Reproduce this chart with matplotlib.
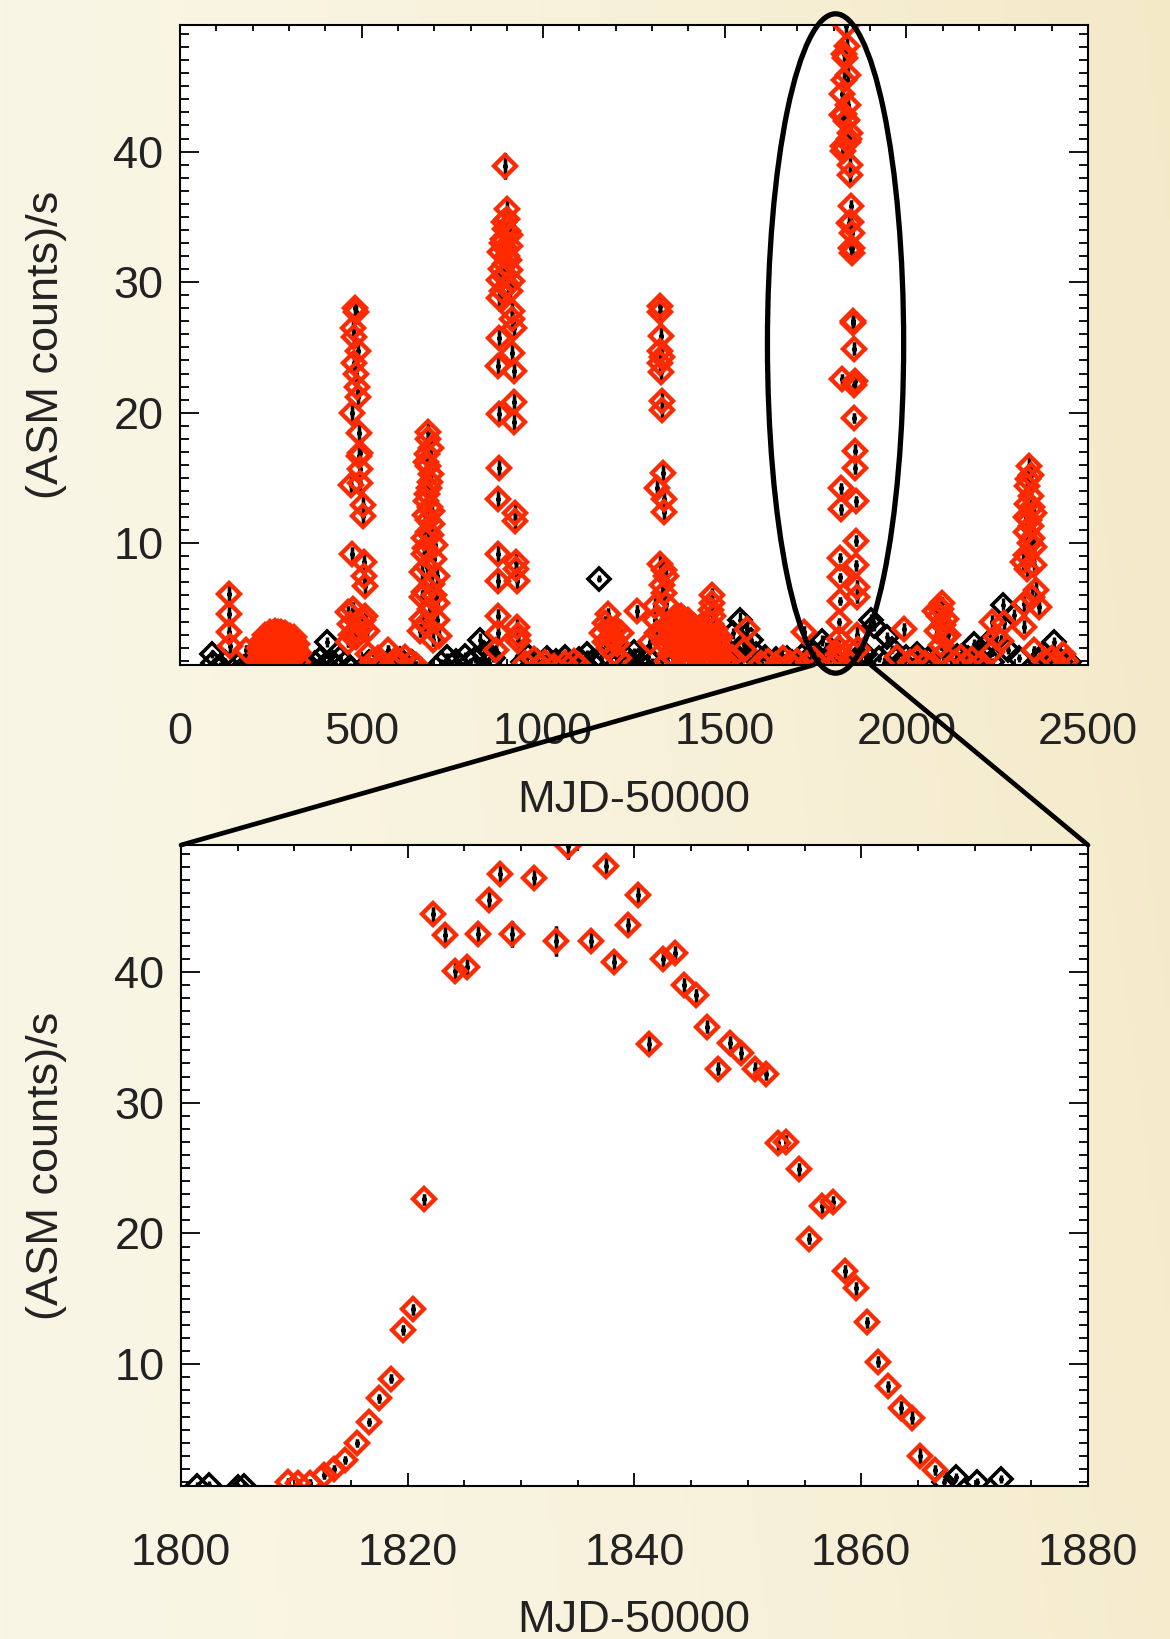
import numpy as np
import matplotlib
matplotlib.use("Agg")
import matplotlib.pyplot as plt
from matplotlib.patches import Ellipse, ConnectionPatch
from matplotlib.ticker import MultipleLocator

plt.rcParams['font.family'] = ['Liberation Sans', 'DejaVu Sans']

# ASM one-day averages: (MJD-50000, rate, error)
# quiet points, drawn in black only
quiet = [
    (87, 1.5, 0.3), (92, 0.8, 0.3), (110, 0.6, 0.3), (125, 0.9, 0.3), (160, 0.7, 0.3),
    (175, 0.5, 0.3), (195, 1.0, 0.3), (205, 0.6, 0.3), (330, 0.6, 0.3), (345, 0.9, 0.3),
    (360, 0.5, 0.3), (372, 0.8, 0.3), (385, 1.1, 0.3), (398, 0.7, 0.3), (406, 2.45, 0.4),
    (418, 0.9, 0.3), (430, 0.6, 0.3), (442, 1.2, 0.3), (455, 0.8, 0.3), (468, 0.5, 0.3),
    (520, 0.9, 0.3), (560, 0.6, 0.3), (575, 1.0, 0.3), (590, 0.7, 0.3), (605, 1.1, 0.3),
    (620, 0.6, 0.3), (640, 0.9, 0.3), (655, 0.5, 0.3), (720, 0.8, 0.3), (735, 1.3, 0.3),
    (748, 0.7, 0.3), (760, 1.0, 0.3), (772, 0.6, 0.3), (785, 1.4, 0.3), (798, 0.9, 0.3),
    (812, 1.1, 0.3), (827, 2.6, 0.5), (838, 1.6, 0.3), (850, 0.8, 0.3), (862, 1.2, 0.3),
    (945, 0.9, 0.3), (958, 1.4, 0.3), (970, 0.7, 0.3), (982, 1.0, 0.3), (995, 0.6, 0.3),
    (1010, 1.2, 0.3), (1022, 0.8, 0.3), (1035, 1.0, 0.3), (1048, 0.6, 0.3), (1060, 1.3, 0.3),
    (1072, 0.9, 0.3), (1085, 0.7, 0.3), (1098, 1.1, 0.3), (1110, 0.8, 0.3), (1122, 1.5, 0.3),
    (1135, 0.9, 0.3), (1153, 7.3, 0.3), (1160, 1.2, 0.3), (1225, 1.4, 0.3), (1238, 0.8, 0.3),
    (1250, 1.7, 0.3), (1262, 1.0, 0.3), (1275, 0.6, 0.3), (1288, 1.3, 0.3), (1300, 0.9, 0.3),
    (1495, 1.6, 0.3), (1508, 1.0, 0.3), (1524, 3.1, 0.4), (1535, 1.4, 0.3), (1543, 4.1, 0.6),
    (1553, 2.2, 0.4), (1562, 1.1, 0.3), (1572, 2.6, 0.4), (1585, 1.5, 0.3), (1598, 0.9, 0.3),
    (1610, 1.3, 0.3), (1625, 0.8, 0.3), (1640, 1.1, 0.3), (1655, 0.7, 0.3), (1670, 1.2, 0.3),
    (1685, 0.9, 0.3), (1700, 0.6, 0.3), (1712, 1.4, 0.3), (1730, 1.0, 0.3), (1745, 1.6, 0.3),
    (1758, 0.9, 0.3), (1768, 2.55, 0.4), (1779, 2.0, 0.4), (1790, 1.2, 0.3), (1885, 1.5, 0.3),
    (1902, 4.1, 0.5), (1911, 3.7, 0.4), (1925, 1.2, 0.3), (1938, 0.8, 0.3), (1947, 2.8, 0.4),
    (1960, 1.9, 0.3), (1972, 1.1, 0.3), (1985, 0.7, 0.3), (2000, 1.3, 0.3), (2015, 0.9, 0.3),
    (2030, 1.5, 0.3), (2045, 0.7, 0.3), (2060, 1.1, 0.3), (2140, 1.4, 0.3), (2155, 0.8, 0.3),
    (2170, 1.2, 0.3), (2186, 2.3, 0.4), (2200, 1.0, 0.3), (2212, 1.6, 0.3), (2223, 2.3, 0.4),
    (2235, 0.9, 0.3), (2265, 5.3, 0.5), (2280, 1.8, 0.3), (2297, 4.5, 0.5), (2310, 1.2, 0.3),
    (2365, 1.0, 0.3), (2380, 1.5, 0.3), (2395, 0.8, 0.3), (2406, 2.4, 0.4), (2420, 1.1, 0.3),
    (2435, 0.7, 0.3), (2448, 0.9, 0.3),
]

# quiet days either side of the 1999 outburst
burst_quiet = [
    (1801.4, 0.7, 0.3), (1802.5, 0.8, 0.3), (1805.0, 0.6, 0.3), (1805.6, 0.7, 0.3),
    (1867.3, 1.0, 0.3), (1868.4, 1.4, 0.3), (1870.2, 1.0, 0.3), (1872.3, 1.2, 0.3),
]

# outburst shown in the lower panel
burst_1999 = [
    (1809.4, 1.0, 0.3), (1810.3, 0.95, 0.3), (1811.4, 0.95, 0.3), (1812.6, 1.55, 0.3),
    (1813.5, 2.0, 0.3), (1814.5, 2.7, 0.3), (1815.5, 4.0, 0.3), (1816.6, 5.6, 0.3),
    (1817.5, 7.4, 0.35), (1818.5, 8.9, 0.35), (1819.6, 12.6, 0.4), (1820.5, 14.2, 0.4),
    (1821.4, 22.6, 0.4), (1822.2, 44.4, 0.6), (1823.3, 42.8, 0.6), (1824.2, 40.05, 0.6),
    (1825.2, 40.4, 0.6), (1826.2, 42.9, 0.6), (1827.2, 45.5, 0.6), (1828.1, 47.5, 0.6),
    (1829.2, 42.9, 1.0), (1831.1, 47.2, 0.7), (1833.1, 42.35, 1.15), (1834.1, 49.6, 1.0),
    (1836.2, 42.4, 0.7), (1837.5, 48.1, 0.6), (1838.2, 40.75, 0.6), (1839.4, 43.55, 0.6),
    (1840.3, 45.9, 0.6), (1841.3, 34.5, 0.6), (1842.5, 41.0, 0.6), (1843.6, 41.45, 0.5),
    (1844.4, 39.0, 0.5), (1845.4, 38.2, 0.5), (1846.4, 35.8, 0.5), (1847.4, 32.6, 0.5),
    (1848.4, 34.6, 0.5), (1849.4, 33.8, 0.5), (1850.6, 32.6, 0.5), (1851.6, 32.2, 0.5),
    (1852.7, 26.9, 0.5), (1853.4, 27.0, 0.5), (1854.5, 24.9, 0.5), (1855.4, 19.6, 0.4),
    (1856.5, 22.1, 0.5), (1857.5, 22.4, 0.5), (1858.6, 17.1, 0.5), (1859.5, 15.8, 0.5),
    (1860.5, 13.2, 0.4), (1861.5, 10.2, 0.4), (1862.4, 8.3, 0.4), (1863.5, 6.65, 0.5),
    (1864.5, 5.9, 0.5), (1865.2, 2.95, 0.7), (1866.5, 1.9, 0.4),
]

# other outbursts / active days (red)
burst_a = [
    (136, 6.1, 0.6), (136, 4.55, 0.6), (136, 3.2, 0.6), (138, 2.1, 0.5), (182, 1.8, 0.4),
    (215, 1.0, 0.3), (220, 1.6, 0.3), (225, 0.9, 0.3), (228, 2.2, 0.3), (232, 1.3, 0.3),
    (236, 2.6, 0.3), (240, 1.8, 0.3), (244, 0.8, 0.3), (247, 2.9, 0.3), (250, 2.1, 0.3),
    (253, 1.4, 0.3), (256, 3.1, 0.3), (259, 2.4, 0.3), (262, 3.3, 0.3), (265, 1.7, 0.3),
    (268, 2.8, 0.3), (271, 3.2, 0.3), (274, 2.0, 0.3), (277, 2.9, 0.3), (280, 1.2, 0.3),
    (283, 3.0, 0.3), (286, 2.5, 0.3), (289, 1.9, 0.3), (292, 2.7, 0.3), (296, 1.4, 0.3),
    (300, 2.3, 0.3), (304, 1.8, 0.3), (308, 2.6, 0.3), (312, 1.1, 0.3), (316, 2.0, 0.3),
    (320, 1.5, 0.3), (325, 0.9, 0.3),
    (217, 2.0, 0.3), (222, 1.1, 0.3), (226, 2.5, 0.3), (230, 1.7, 0.3), (234, 3.0, 0.3),
    (238, 1.1, 0.3), (242, 2.4, 0.3), (246, 1.6, 0.3), (249, 3.2, 0.3), (252, 2.6, 0.3),
    (255, 1.9, 0.3), (258, 2.9, 0.3), (261, 1.2, 0.3), (264, 3.0, 0.3), (267, 2.2, 0.3),
    (270, 1.5, 0.3), (273, 3.1, 0.3), (276, 2.4, 0.3), (279, 3.2, 0.3), (282, 2.0, 0.3),
    (285, 1.4, 0.3), (288, 3.1, 0.3), (291, 2.2, 0.3), (294, 3.0, 0.3), (298, 2.0, 0.3),
    (302, 2.9, 0.3), (306, 1.3, 0.3), (310, 2.2, 0.3), (314, 2.8, 0.3), (318, 1.7, 0.3),
    (322, 2.3, 0.3), (328, 1.6, 0.3),
]
burst_b = [
    (482, 28.0, 0.8), (486, 27.7, 0.7), (476, 26.5, 0.7), (478, 25.8, 0.7), (491, 24.75, 0.8),
    (480, 23.8, 0.7), (486, 23.0, 0.7), (487, 22.0, 0.7), (491, 21.2, 0.7), (473, 20.0, 0.6),
    (494, 18.45, 0.8), (496, 16.9, 0.8), (493, 16.7, 0.7), (496, 15.7, 0.7), (471, 14.5, 0.6),
    (496, 14.6, 0.8), (505, 12.9, 0.8), (505, 12.1, 0.8), (475, 9.2, 0.5), (508, 8.6, 0.8),
    (508, 7.5, 0.7), (510, 6.7, 0.7), (464, 4.7, 0.5), (477, 5.0, 0.5), (505, 4.1, 0.5),
    (514, 3.3, 0.5), (468, 3.8, 0.5), (464, 2.45, 0.4), (510, 4.4, 0.5), (482, 3.3, 0.5),
    (490, 4.0, 0.5), (470, 3.0, 0.4), (500, 3.6, 0.5), (485, 2.8, 0.4),
    (519, 1.5, 0.3), (530, 0.9, 0.3), (545, 1.2, 0.3), (558, 0.7, 0.3), (574, 1.8, 0.4),
    (590, 1.0, 0.3), (605, 0.8, 0.3), (620, 1.3, 0.3), (635, 0.9, 0.3), (650, 0.7, 0.3),
]
burst_c = [
    (684, 18.5, 0.7), (684, 18.0, 0.7), (680, 16.8, 0.7), (684, 15.9, 0.7), (689, 14.7, 0.7),
    (680, 13.8, 0.7), (689, 12.8, 0.7), (675, 12.2, 0.7), (694, 11.5, 0.7), (684, 10.9, 0.7),
    (671, 10.4, 0.7), (703, 9.9, 0.7), (671, 9.2, 0.7), (666, 7.8, 0.6), (707, 7.5, 0.6),
    (666, 5.85, 0.6), (707, 5.4, 0.6), (666, 4.2, 0.6), (707, 4.1, 0.6), (661, 3.3, 0.5),
    (712, 2.9, 0.5), (698, 2.6, 0.5), (692, 17.3, 0.7), (677, 16.2, 0.7), (690, 15.3, 0.7),
    (686, 14.2, 0.7), (678, 13.2, 0.7), (695, 12.5, 0.7), (682, 11.8, 0.7), (690, 10.6, 0.7),
    (676, 9.6, 0.7), (700, 8.8, 0.7), (680, 8.2, 0.6), (694, 6.9, 0.6), (672, 6.3, 0.6),
    (700, 6.0, 0.6), (688, 5.0, 0.6), (676, 3.8, 0.5),
]
burst_d = [
    (896, 38.9, 1.0), (900, 35.6, 0.8), (900, 34.8, 0.8), (896, 34.1, 0.8), (909, 33.6, 0.8),
    (887, 33.0, 0.8), (909, 32.8, 0.8), (882, 32.3, 0.8), (900, 32.0, 0.8), (896, 31.4, 0.8),
    (909, 30.9, 0.8), (878, 30.2, 0.8), (914, 30.1, 0.8), (887, 29.3, 0.8), (909, 29.3, 0.8),
    (878, 28.8, 0.8), (914, 27.8, 0.8), (914, 27.2, 0.8), (919, 26.5, 0.8), (878, 25.7, 0.8),
    (914, 24.6, 0.8), (875, 23.6, 0.8), (919, 23.2, 0.8), (919, 20.8, 0.8), (878, 19.9, 0.8),
    (921, 19.3, 0.8), (878, 15.8, 0.7), (875, 13.4, 0.7), (923, 12.3, 0.8), (923, 11.7, 0.8),
    (875, 9.2, 0.7), (926, 8.6, 0.8), (926, 8.0, 0.8), (875, 7.1, 0.7), (928, 7.1, 0.8),
    (875, 4.4, 0.6), (928, 3.6, 0.6), (930, 2.95, 0.5), (930, 2.5, 0.5), (875, 3.1, 0.5),
    (871, 1.8, 0.4), (892, 34.6, 0.8), (904, 33.9, 0.8), (890, 33.3, 0.8), (896, 32.6, 0.8),
    (905, 31.7, 0.8), (884, 31.0, 0.8), (893, 30.5, 0.8), (902, 29.8, 0.8),
    (950, 0.8, 0.3), (975, 1.1, 0.3), (990, 0.7, 0.3), (1005, 0.9, 0.3), (1030, 0.6, 0.3),
    (1060, 0.8, 0.3), (1085, 1.0, 0.3), (1100, 0.7, 0.3),
]
burst_e = [
    (1178, 4.55, 0.5), (1170, 3.9, 0.5), (1185, 3.4, 0.5), (1163, 3.1, 0.4), (1200, 3.4, 0.5),
    (1213, 3.1, 0.4), (1203, 2.3, 0.4), (1170, 2.45, 0.4), (1190, 2.8, 0.4), (1180, 2.0, 0.4),
    (1195, 1.5, 0.3), (1210, 1.2, 0.3), (1259, 4.8, 0.5),
]
burst_f = [
    (1321, 28.2, 0.8), (1323, 27.7, 0.8), (1325, 25.9, 0.8), (1321, 24.75, 0.8), (1328, 24.3, 0.8),
    (1323, 23.8, 0.8), (1325, 23.1, 0.8), (1328, 20.9, 0.8), (1328, 20.2, 0.8), (1330, 15.4, 0.7),
    (1314, 14.25, 0.7), (1332, 13.4, 0.7), (1332, 12.4, 0.7), (1323, 8.4, 0.7), (1332, 7.95, 0.7),
    (1337, 7.5, 0.7), (1328, 6.8, 0.6), (1332, 6.2, 0.6), (1309, 5.2, 0.6), (1337, 5.35, 0.6),
    (1309, 4.1, 0.5), (1341, 3.75, 0.5), (1314, 3.1, 0.5), (1295, 2.45, 0.4), (1332, 2.45, 0.4),
    (1340, 2.2, 0.4), (1345, 3.4, 0.4), (1350, 1.5, 0.3), (1355, 3.9, 0.4), (1360, 2.7, 0.4),
    (1365, 4.2, 0.4), (1370, 1.9, 0.3), (1375, 3.6, 0.4), (1380, 4.4, 0.4), (1385, 2.5, 0.4),
    (1390, 3.9, 0.4), (1395, 1.4, 0.3), (1400, 4.1, 0.4), (1405, 3.0, 0.4), (1410, 2.2, 0.4),
    (1415, 3.7, 0.4), (1420, 1.2, 0.3), (1425, 3.2, 0.4), (1430, 2.6, 0.4), (1435, 1.8, 0.3),
    (1440, 3.4, 0.4), (1445, 2.4, 0.4), (1450, 1.5, 0.3), (1455, 3.0, 0.4), (1460, 2.1, 0.4),
    (1465, 6.0, 0.6), (1466, 5.4, 0.6), (1463, 4.9, 0.5), (1468, 4.4, 0.5), (1462, 3.8, 0.5),
    (1470, 2.9, 0.4), (1475, 1.6, 0.3), (1480, 2.5, 0.4), (1485, 1.1, 0.3), (1490, 1.9, 0.3),
    (1498, 0.9, 0.3),
    (1342, 1.0, 0.3), (1347, 2.6, 0.3), (1352, 3.0, 0.3), (1357, 1.2, 0.3), (1362, 3.5, 0.3),
    (1367, 2.4, 0.3), (1372, 4.0, 0.3), (1377, 1.5, 0.3), (1382, 3.1, 0.3), (1387, 4.2, 0.3),
    (1392, 2.0, 0.3), (1397, 3.4, 0.3), (1402, 1.1, 0.3), (1407, 3.8, 0.3), (1412, 2.8, 0.3),
    (1417, 1.6, 0.3), (1422, 3.0, 0.3), (1427, 2.1, 0.3), (1432, 3.6, 0.3), (1437, 1.0, 0.3),
    (1442, 2.8, 0.3), (1447, 3.2, 0.3), (1452, 2.2, 0.3), (1457, 1.3, 0.3), (1472, 3.4, 0.3),
    (1477, 2.2, 0.3), (1482, 1.4, 0.3), (1487, 2.8, 0.3), (1493, 1.3, 0.3),
    (1507, 0.9, 0.3), (1520, 1.3, 0.3), (1562, 3.4, 0.5), (1553, 1.8, 0.3), (1600, 0.8, 0.3),
    (1620, 1.0, 0.3), (1640, 0.7, 0.3), (1660, 1.2, 0.3), (1680, 0.8, 0.3), (1700, 1.0, 0.3),
    (1718, 3.2, 0.5), (1730, 0.9, 0.3), (1745, 1.1, 0.3), (1760, 0.7, 0.3),
]
burst_g = [
    (1993, 3.4, 0.5), (1975, 1.3, 0.3), (2010, 0.9, 0.3), (2030, 1.2, 0.3), (2050, 0.8, 0.3),
    (2098, 5.4, 0.5), (2094, 5.0, 0.5), (2090, 4.4, 0.5), (2100, 3.75, 0.5), (2085, 3.3, 0.4),
    (2105, 2.8, 0.4), (2094, 2.2, 0.4), (2102, 1.55, 0.3), (2110, 4.2, 0.5), (2080, 4.8, 0.5),
    (2115, 3.0, 0.4), (2135, 0.9, 0.3), (2150, 1.3, 0.3), (2165, 0.8, 0.3), (2180, 1.1, 0.3),
    (2200, 0.7, 0.3),
]
burst_h = [
    (2237, 4.0, 0.5), (2260, 2.55, 0.4), (2246, 2.8, 0.4), (2270, 3.9, 0.5), (2324, 3.6, 0.5),
    (2236, 1.65, 0.3), (2351, 1.8, 0.3), (2430, 1.5, 0.3),
    (2338, 15.9, 0.8), (2342, 15.2, 0.8), (2333, 14.4, 0.8), (2342, 13.6, 0.8), (2333, 13.0, 0.8),
    (2351, 12.3, 0.8), (2338, 11.8, 0.8), (2342, 11.3, 0.8), (2328, 10.9, 0.7), (2347, 10.4, 0.8),
    (2351, 9.7, 0.8), (2328, 9.1, 0.7), (2320, 8.6, 0.7), (2351, 8.3, 0.8), (2333, 8.0, 0.7),
    (2356, 6.4, 0.7), (2347, 5.9, 0.7), (2365, 5.1, 0.6), (2324, 5.35, 0.6), (2336, 14.9, 0.8),
    (2345, 12.8, 0.8), (2330, 12.0, 0.8), (2340, 10.0, 0.8),
    (2385, 0.9, 0.3), (2400, 1.2, 0.3), (2415, 0.8, 0.3), (2440, 1.0, 0.3),
]

zoom_window = (1745, 1902)         # where the lower panel's guide lines meet the upper axis
ellipse_centre = (1805, 25.3)
ellipse_size = (375, 50.5)

RED = '#ff2a00'
TXT = '#222222'
FS = 32.5


def cols(rows):
    a = np.array(rows, dtype=float)
    return a[:, 0], a[:, 1], a[:, 2]


def draw(ax, black_rows, red_rows):
    bx, by, be = cols(black_rows)
    rx, ry, re_ = cols(red_rows)
    ax.plot(bx, by, 'D', ls='none', mfc='none', mec='k', ms=11.5, mew=2.6, zorder=2)
    ax.errorbar(bx, by, yerr=be, fmt='none', ecolor='k', elinewidth=2.4, capsize=0, zorder=2.5)
    ax.errorbar(rx, ry, yerr=re_, fmt='none', ecolor='k', elinewidth=2.4, capsize=0, zorder=2.5)
    ax.plot(np.r_[bx, rx], np.r_[by, ry], 'o', ls='none', color='k', ms=2.6, zorder=2.6)
    ax.plot(rx, ry, 'D', ls='none', mfc='none', mec=RED, ms=11.5, mew=3.0, zorder=3)


def style(ax, major, minor):
    ax.set_ylim(0.68, 49.7)
    ax.xaxis.set_major_locator(MultipleLocator(major))
    ax.xaxis.set_minor_locator(MultipleLocator(minor))
    ax.yaxis.set_major_locator(MultipleLocator(10))
    ax.yaxis.set_minor_locator(MultipleLocator(1))
    ax.tick_params(which='both', direction='in', top=True, right=True, width=1.3,
                   color='k', labelcolor=TXT, labelsize=FS)
    ax.tick_params(axis='x', which='major', length=9.2, pad=34)
    ax.tick_params(axis='x', which='minor', length=4.6)
    ax.tick_params(axis='y', which='major', length=13.5, pad=12)
    ax.tick_params(axis='y', which='minor', length=6.8)
    for s in ax.spines.values():
        s.set_linewidth(1.5)
        s.set_zorder(6)


fig = plt.figure(figsize=(11.7, 16.39), dpi=100)

# cream background
bg = fig.add_axes([0, 0, 1, 1], zorder=-10)
gx = np.linspace(0, 1, 300)[None, :]
gy = np.linspace(0, 1, 400)[:, None]
t = np.clip(0.75 * gx ** 1.6 + 0.25 * (1 - gy) * gx, 0, 1)
left_c = np.array([250, 246, 229]) / 255
right_c = np.array([244, 233, 199]) / 255
img = left_c[None, None, :] * (1 - t[..., None]) + right_c[None, None, :] * t[..., None]
bg.imshow(img, aspect='auto', extent=[0, 1, 0, 1], origin='upper')
bg.axis('off')

ax1 = fig.add_axes([0.1538, 0.5943, 0.7761, 0.3905])
ax2 = fig.add_axes([0.1547, 0.0933, 0.7752, 0.3911])

black_all = quiet + burst_quiet + burst_a + burst_b + burst_c + burst_d + burst_e + burst_f + burst_g + burst_h + burst_1999
red_all = burst_a + burst_b + burst_c + burst_d + burst_e + burst_f + burst_g + burst_h + burst_1999

draw(ax1, black_all, red_all)
ax1.set_xlim(0, 2500)
style(ax1, 500, 100)

draw(ax2, burst_quiet + burst_1999, burst_1999)
ax2.set_xlim(1800, 1880)
style(ax2, 20, 5)

for a in (ax1, ax2):
    a.set_facecolor('white')

ell = Ellipse(ellipse_centre, ellipse_size[0], ellipse_size[1], fill=False,
              ec='k', lw=3.8, clip_on=False, zorder=10)
ax1.add_patch(ell)

ymin = ax1.get_ylim()[0]
for corner, xm in ((0, zoom_window[0]), (1, zoom_window[1])):
    con = ConnectionPatch(xyA=(corner, 1), coordsA=ax2.transAxes,
                          xyB=(xm, ymin), coordsB=ax1.transData,
                          color='k', lw=3.4, zorder=10)
    fig.add_artist(con)

fig.text(0.5415, 1 - 800 / 1639, 'MJD-50000', ha='center', va='center', fontsize=FS, color=TXT)
fig.text(0.5415, 1 - 1621 / 1639, 'MJD-50000', ha='center', va='center', fontsize=FS, color=TXT)
fig.text(47 / 1170, 1 - 345 / 1639, '(ASM counts)/s', rotation=90, ha='center', va='center',
         fontsize=FS, color=TXT)
fig.text(47 / 1170, 1 - 1166 / 1639, '(ASM counts)/s', rotation=90, ha='center', va='center',
         fontsize=FS, color=TXT)

fig.savefig('out.png', dpi=100)
plt.close(fig)
